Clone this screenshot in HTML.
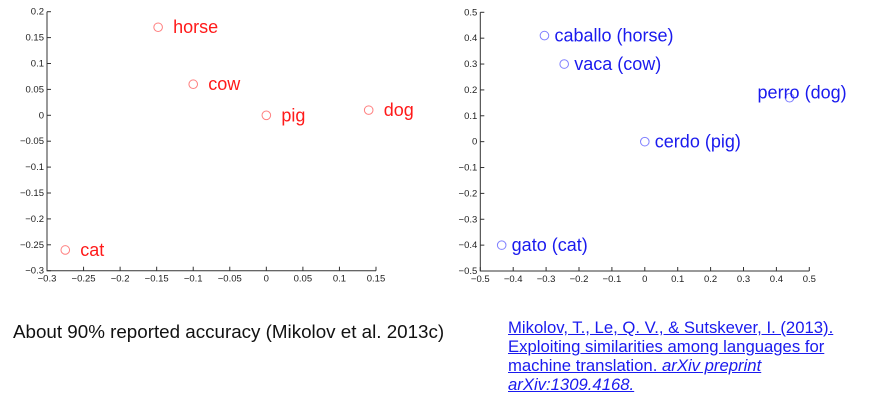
<!DOCTYPE html>
<html><head><meta charset="utf-8"><style>
body{margin:0;background:#fff;width:877px;height:409px;overflow:hidden;position:relative;font-family:"Liberation Sans",sans-serif}
svg{position:absolute;left:0;top:0}
.tick{font-size:9.5px;fill:#222}
#note{position:absolute;left:13px;top:321px;font-size:18.8px;color:#111;white-space:nowrap}
#cite{position:absolute;left:508px;top:318px;font-size:16.7px;line-height:19px;color:#1a1aee;text-decoration:underline;white-space:nowrap}
</style></head><body>
<svg id="chart" width="877" height="300"></svg>
<div id="note">About 90% reported accuracy (Mikolov et al. 2013c)</div>
<div id="cite">Mikolov, T., Le, Q. V., &amp; Sutskever, I. (2013).<br>Exploiting similarities among languages for<br>machine translation. <i>arXiv preprint</i><br><i>arXiv:1309.4168.</i></div>
<script>
const enWords=["horse","cow","pig","dog","cat"];
const enX=[-0.148,-0.1,0,0.14,-0.275];
const enY=[0.17,0.06,0,0.01,-0.26];
const enXTicks=[-0.3,-0.25,-0.2,-0.15,-0.1,-0.05,0,0.05,0.1,0.15];
const enYTicks=[-0.3,-0.25,-0.2,-0.15,-0.1,-0.05,0,0.05,0.1,0.15,0.2];
const esWords=["caballo (horse)","vaca (cow)","perro (dog)","cerdo (pig)","gato (cat)"];
const esX=[-0.305,-0.245,0.44,0,-0.435];
const esY=[0.41,0.3,0.17,0,-0.4];
const esXTicks=[-0.5,-0.4,-0.3,-0.2,-0.1,0,0.1,0.2,0.3,0.4,0.5];
const esYTicks=[-0.5,-0.4,-0.3,-0.2,-0.1,0,0.1,0.2,0.3,0.4,0.5];
const NS="http://www.w3.org/2000/svg";
const svg=document.getElementById('chart');
function el(t,a,p){const e=document.createElementNS(NS,t);for(const k in a)e.setAttribute(k,a[k]);(p||svg).appendChild(e);return e;}
function fmt(v){const s=String(+v.toFixed(2));return s.replace('-','\u2212');}
function chart(name,L,R,T,B,xmin,xmax,ymin,ymax,xt,yt,words,xs,ys,color,mcolor,labelAbove,off){
  const g=el('g',{});
  
  
  const sx=v=>L+(v-xmin)/(xmax-xmin)*(R-L);
  const sy=v=>B-(v-ymin)/(ymax-ymin)*(B-T);
  const ax=el('path',{d:`M${L},${T}V${B}H${R}`,stroke:'#333','stroke-width':1,fill:'none'},g);
  
  
  xt.forEach(v=>{const x=sx(v);el('line',{x1:x,x2:x,y1:B,y2:B-4,stroke:'#333'},g);
    const t=el('text',{x:x,y:B+11,'text-anchor':'middle',class:'tick'},g);t.textContent=fmt(v);
    
    });
  yt.forEach(v=>{const y=sy(v);el('line',{x1:L,x2:L+4,y1:y,y2:y,stroke:'#333'},g);
    const t=el('text',{x:L-3,y:y+3,'text-anchor':'end',class:'tick'},g);t.textContent=fmt(v);
    
    });
  words.forEach((w,i)=>{const x=sx(xs[i]),y=sy(ys[i]);
    const c=el('circle',{cx:x,cy:y,r:4.3,fill:'none',stroke:mcolor,'stroke-width':1},g);
    
    
    const ab=labelAbove[i];
    const t=el('text',{x:ab?x-32:x+off,y:ab?y+1:y+6,fill:color,'font-size':'18px'},g);t.textContent=w;
    
    });
}
chart('english-chart',47,376,11.7,270.7,-0.3,0.15,-0.3,0.2,enXTicks,enYTicks,enWords,enX,enY,'#ff1a1a','#ff8080',[0,0,0,0,0],15);
chart('spanish-chart',480.3,809.3,12.3,271,-0.5,0.5,-0.5,0.5,esXTicks,esYTicks,esWords,esX,esY,'#1a1aee','#8080ff',[0,0,1,0,0],10);
</script>
</body></html>
